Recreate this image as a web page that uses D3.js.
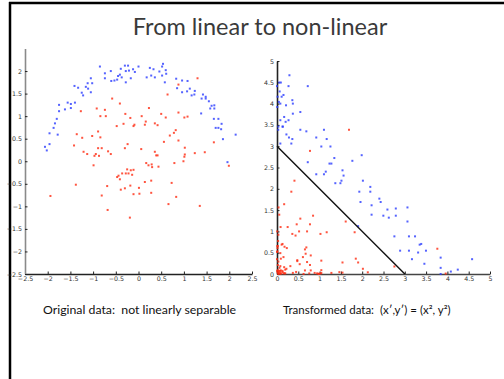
<!DOCTYPE html>
<html><head><meta charset="utf-8">
<script src="https://cdn.jsdelivr.net/npm/d3@7"></script>
<style>body{margin:0;background:#fff}svg{display:block}text{white-space:pre}</style>
</head><body><svg id="c" width="504" height="379"></svg>
<script>
// ---- data ----
const title = "From linear to non-linear";
const captionLeft = "Original data:  not linearly separable";
const captionRight = "Transformed data:  (x\u2032,y\u2032) = (x\u00B2, y\u00B2)";

// outer ring class (blue)
const blueX = [-0.85,-0.74,-0.61,-0.74,-0.60,-0.53,-0.45,-0.41,-0.37,-0.30,-0.23,-0.39,-0.28,-0.21,-0.12,-0.08,-0.17,-0.28,0.00,-0.47,
 -1.05,-1.12,-1.02,-1.16,-1.33,-1.41,-1.11,-1.25,-1.05,-1.22,-1.56,-1.49,-1.40,-1.75,-1.62,-1.75,-1.49,-1.80,-1.84,-1.87,-1.96,-1.78,-1.96,-2.06,-2.02,
 0.54,0.52,0.25,0.33,0.46,0.60,0.61,0.52,0.28,0.18,0.36,0.58,0.83,0.96,1.08,0.85,0.96,1.07,1.13,1.24,
 1.23,1.17,1.42,1.48,1.39,1.48,1.55,1.67,1.61,1.58,1.67,1.38,1.66,1.76,1.83,1.70,1.76,1.82,2.14,1.86,1.96];
const blueY = [2.10,1.95,2.00,1.84,1.78,1.79,1.89,1.92,1.86,2.12,2.12,2.05,2.00,2.01,2.04,1.98,1.84,1.75,2.10,1.81,
 1.84,1.73,1.73,1.65,1.63,1.67,1.61,1.52,1.53,1.46,1.30,1.27,1.30,1.25,1.15,1.11,1.18,0.94,0.84,0.74,0.62,0.59,0.38,0.32,0.24,
 2.16,2.10,2.07,2.04,1.99,2.02,1.94,1.90,1.90,1.86,1.86,1.75,1.83,1.79,1.78,1.62,1.53,1.55,1.61,1.56,
 1.48,1.46,1.48,1.43,1.39,1.39,1.33,1.24,1.23,1.17,1.17,1.06,0.94,0.94,0.83,0.74,0.74,0.71,0.59,0.49,-0.02];

// inner class (red)
const redX = [-0.58,-0.41,-0.92,-0.74,-1.27,-0.84,-0.72,-0.29,-0.18,-0.33,-0.48,-0.11,-0.09,-0.89,-1.36,-1.02,-1.24,-0.84,-1.42,-0.24,
 -0.30,-0.89,-0.81,-0.67,-1.21,-1.13,-0.94,-0.97,-0.87,-0.61,-0.99,
 1.30,0.88,0.64,0.23,0.07,0.50,0.60,0.88,1.01,1.08,0.16,0.14,0.36,0.42,0.82,0.78,0.69,0.88,0.56,1.66,
 1.02,0.06,0.36,0.42,0.39,1.02,1.01,1.24,1.46,0.17,0.29,0.79,0.99,
 0.22,0.30,0.44,1.99,-0.25,-0.17,-0.11,-0.36,-0.28,-0.22,-0.14,-0.44,-0.47,-0.41,-1.38,-0.69,-0.18,0.14,0.28,0.73,
 0.01,-0.30,-0.39,-1.94,-0.81,-0.11,0.02,0.28,0.83,0.66,1.35,-0.68,-0.19];
const redY = [1.39,1.28,1.17,1.14,1.11,1.00,1.00,1.05,0.96,0.83,0.78,0.78,0.81,0.66,0.60,0.56,0.52,0.53,0.35,0.38,
 0.29,0.29,0.29,0.22,0.21,0.16,0.16,0.12,0.12,0.16,-0.09,
 1.84,1.70,1.48,1.18,1.00,1.05,0.97,1.08,0.97,0.99,0.88,0.81,0.84,0.80,0.69,0.63,0.57,0.46,0.43,0.42,
 0.30,0.27,0.21,0.13,0.13,0.15,0.10,0.18,0.20,-0.04,-0.07,-0.04,0.00,
 -0.09,-0.13,-0.12,-0.10,-0.18,-0.20,-0.19,-0.27,-0.27,-0.27,-0.30,-0.32,-0.35,-0.40,-0.52,-0.55,-0.54,-0.46,-0.43,-0.48,
 -0.59,-0.60,-0.63,-0.77,-0.76,-0.73,-0.72,-0.70,-0.79,-0.95,-0.99,-1.08,-1.25];

const ticksLeftX = [-2.5,-2,-1.5,-1,-0.5,0,0.5,1,1.5,2,2.5];
const ticksLeftY = [-2.5,-2,-1.5,-1,-0.5,0,0.5,1,1.5,2];
const ticksRight = [0,0.5,1,1.5,2,2.5,3,3.5,4,4.5,5];
const boundaryX = [0,3];   // separating line x' + y' = 3
const boundaryY = [3,0];

// transformed data is the chart's own mapping (x', y') = (x^2, y^2)
const sq = v => v * v;

// ---- drawing ----
const svg = d3.select("#c");
const fontUI = "'Comic Sans MS','Lato','Open Sans',sans-serif";

// slide frame
svg.append("line").attr("x1",10).attr("x2",10).attr("y1",2).attr("y2",379).attr("stroke","#000").attr("stroke-width",2.5);
svg.append("line").attr("x1",9).attr("x2",504).attr("y1",3).attr("y2",3).attr("stroke","#000").attr("stroke-width",2.5);

svg.append("text").attr("x",260).attr("y",35).attr("text-anchor","middle")
  .attr("font-family",fontUI).attr("font-size",23.5).attr("fill","#3a3a3a").text(title);

const fmt = d => d3.format("")(d);

function panel(xs, ys, xTicks, yTicks, yAxisColor, xAxisColor) {
  const g = svg.append("g");
  const ax = g.append("g").attr("transform",`translate(0,${ys.range()[0]})`)
    .call(d3.axisBottom(xs).tickValues(xTicks).tickFormat(fmt).tickSizeInner(-2.5).tickSizeOuter(0).tickPadding(3));
  const ay = g.append("g").attr("transform",`translate(${xs.range()[0]},0)`)
    .call(d3.axisLeft(ys).tickValues(yTicks).tickFormat(fmt).tickSizeInner(-2.5).tickSizeOuter(0).tickPadding(3));
  [ [ax,xAxisColor],[ay,yAxisColor] ].forEach(([a,c]) => {
    a.select(".domain").attr("stroke",c).attr("stroke-width",1.6);
    a.selectAll(".tick line").attr("stroke","#222").attr("stroke-width",1);
    a.selectAll(".tick text").attr("fill","#333").attr("font-size",6.3).attr("font-family","'DejaVu Sans',sans-serif");
  });
  return g;
}

function dots(g, xs, ys, X, Y, color) {
  g.append("g").selectAll("rect").data(X.map((x,i)=>[x,Y[i]])).join("rect")
    .attr("x",d=>xs(d[0])-1).attr("y",d=>ys(d[1])-1).attr("width",2).attr("height",2)
    .attr("fill",color).attr("opacity",0.8);
}

// left: original data
const xL = d3.scaleLinear().domain([-2.5,2.5]).range([25,252]);
const yL = d3.scaleLinear().domain([-2.5,2.5]).range([274,48.5]);
const gL = panel(xL, yL, ticksLeftX, ticksLeftY, "#8a8a8a", "#222");
dots(gL, xL, yL, redX, redY, "#ff2a10");
dots(gL, xL, yL, blueX, blueY, "#2a3cff");

// right: transformed data
const xR = d3.scaleLinear().domain([0,5]).range([277,490]);
const yR = d3.scaleLinear().domain([0,5]).range([274,61]);
const gR = panel(xR, yR, ticksRight, ticksRight, "#222", "#444");
dots(gR, xR, yR, redX.map(sq), redY.map(sq), "#ff2a10");
dots(gR, xR, yR, blueX.map(sq), blueY.map(sq), "#2a3cff");
gR.append("path").datum(boundaryX.map((x,i)=>[x,boundaryY[i]]))
  .attr("d", d3.line().x(d=>xR(d[0])).y(d=>yR(d[1])))
  .attr("stroke","#111").attr("stroke-width",1.4).attr("fill","none");

// captions
svg.append("text").attr("x",43).attr("y",314).attr("font-family",fontUI).attr("font-size",12.3).attr("fill","#111").text(captionLeft);
svg.append("text").attr("x",283).attr("y",314).attr("font-family",fontUI).attr("font-size",11.5).attr("fill","#111").text(captionRight);
</script>
</body></html>
